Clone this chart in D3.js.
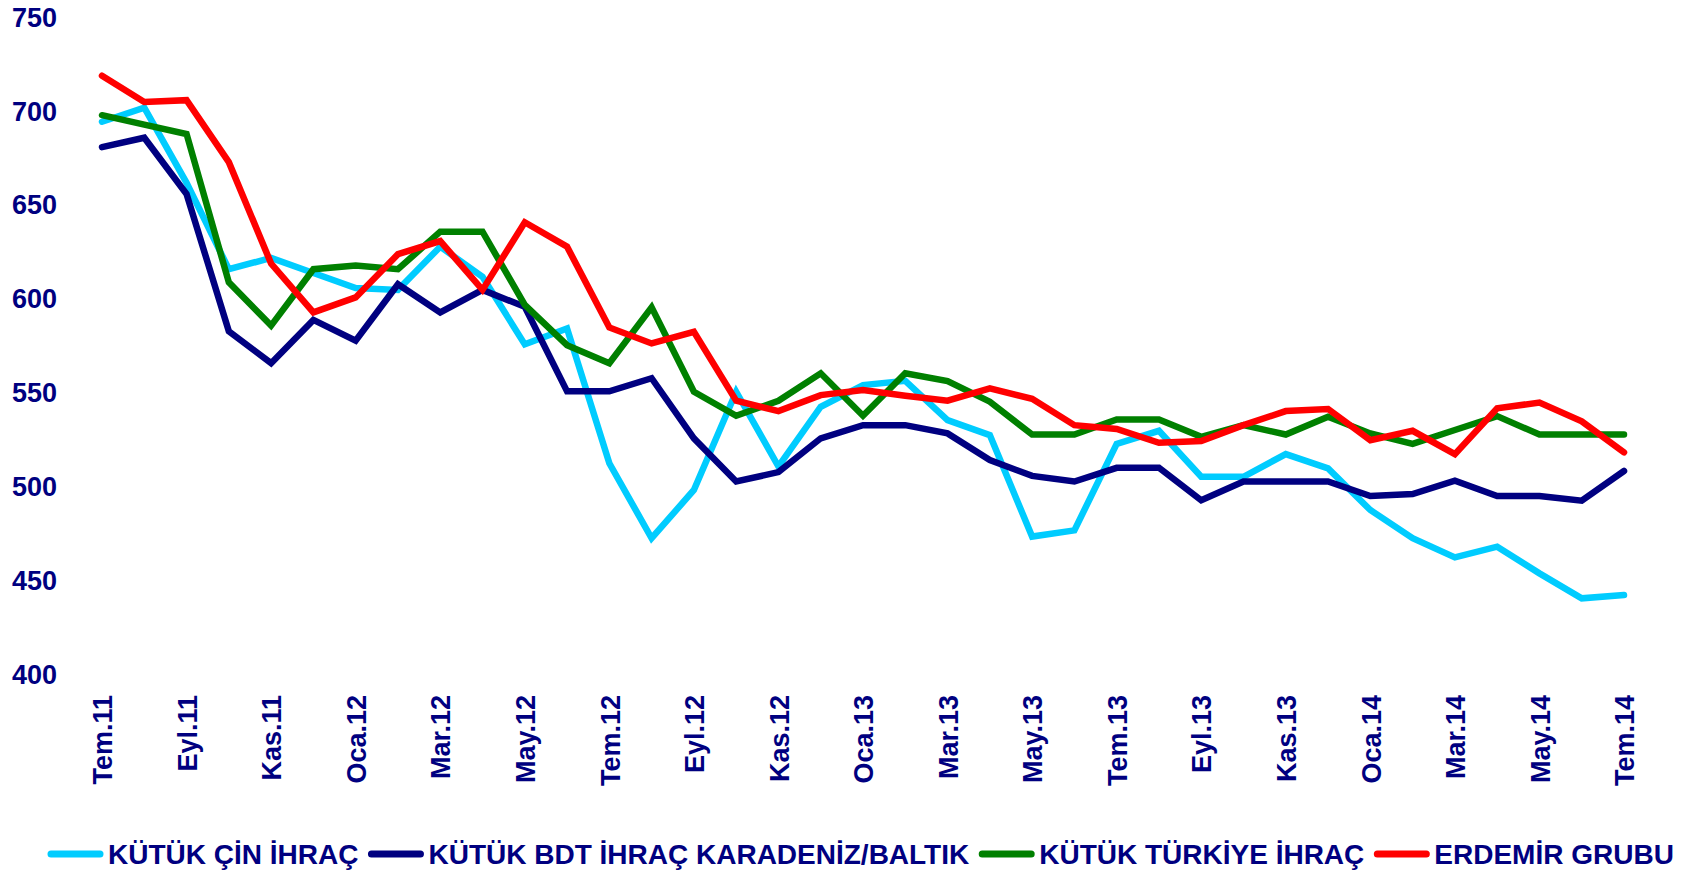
<!DOCTYPE html>
<html>
<head>
<meta charset="utf-8">
<script src="https://cdn.jsdelivr.net/npm/d3@7"></script>
<style>
  html, body { margin: 0; padding: 0; background: #fff; }
  svg text { font-family: Arial, "Liberation Sans", sans-serif; font-weight: bold; fill: #000080; }
</style>
</head>
<body>
<svg id="chart" width="1690" height="872"></svg>
<script>
const months = ["Tem.11","Ağu.11","Eyl.11","Eki.11","Kas.11","Ara.11",
  "Oca.12","Şub.12","Mar.12","Nis.12","May.12","Haz.12","Tem.12","Ağu.12","Eyl.12","Eki.12","Kas.12","Ara.12",
  "Oca.13","Şub.13","Mar.13","Nis.13","May.13","Haz.13","Tem.13","Ağu.13","Eyl.13","Eki.13","Kas.13","Ara.13",
  "Oca.14","Şub.14","Mar.14","Nis.14","May.14","Haz.14","Tem.14"];
const tickLabels = ["Tem.11","Eyl.11","Kas.11","Oca.12","Mar.12","May.12","Tem.12","Eyl.12","Kas.12",
  "Oca.13","Mar.13","May.13","Tem.13","Eyl.13","Kas.13","Oca.14","Mar.14","May.14","Tem.14"];
const yTicks = [400, 450, 500, 550, 600, 650, 700, 750];

const kutukCin = [694.5, 702, 662, 616, 622, 614, 606, 605, 628, 612, 576,
  584.5, 512.7, 472.8, 498.5, 550.8, 511, 542.8, 554.3, 556.6, 535.7, 527.7, 473.7, 477,
  523, 530, 505.5, 505.5, 517.6, 510, 487.8, 472.8, 462.6, 468.3, 454.1, 440.8, 442.6];
const kutukBdt = [681, 686, 656, 583, 566, 589, 578, 608, 593, 605, 596,
  551, 551, 558, 526, 503, 508, 526, 533, 533, 528.6, 514.4, 506, 503,
  510.3, 510.3, 493, 503, 503, 503, 495.3, 496.3, 503.4, 495.3, 495.3, 492.8, 508.6];
const kutukTurkiye = [698, 693, 688, 609, 586, 616, 618, 616, 636, 636, 597,
  575.6, 566, 595.7, 550.8, 538, 546, 560.6, 538, 560.6, 556.5, 545.5, 528, 528,
  536, 536, 526.8, 533, 528, 537.5, 528.6, 523, 530.4, 537.8, 528, 528, 528];
const erdemir = [719, 705, 706, 673, 619, 593, 601, 624, 631, 605, 641,
  628, 585, 576.5, 582.7, 546, 540.5, 549, 551.7, 548.7, 546, 552.6, 547, 533,
  531, 523.6, 524.5, 533, 540.5, 541.6, 525, 530, 517.6, 542, 545, 535, 518.5];

const seriesNames = ["KÜTÜK ÇİN İHRAÇ", "KÜTÜK BDT İHRAÇ KARADENİZ/BALTIK", "KÜTÜK TÜRKİYE İHRAÇ", "ERDEMİR GRUBU"];
const seriesValues = [kutukCin, kutukBdt, kutukTurkiye, erdemir];
const seriesColors = ["#00CCFF", "#000080", "#008000", "#FF0000"];

const svg = d3.select("#chart");
const x = d3.scalePoint().domain(months).range([102, 1624]);
const y = d3.scaleLinear().domain([400, 750]).range([675, 17.5]);

// Y axis
const yAxis = d3.axisLeft(y).tickValues(yTicks).tickSize(0).tickPadding(0);
const gy = svg.append("g").attr("transform", "translate(57,0)").call(yAxis);
gy.select(".domain").remove();
gy.selectAll("text").attr("font-size", 27).attr("fill", "#000080")
  .style("font-family", "Arial, 'Liberation Sans', sans-serif").style("font-weight", "bold");

// X axis
const xAxis = d3.axisBottom(x).tickValues(tickLabels).tickSize(0).tickPadding(0);
const gx = svg.append("g").attr("transform", "translate(0,695)").call(xAxis);
gx.select(".domain").remove();
gx.selectAll("text")
  .attr("font-size", 27).attr("fill", "#000080")
  .style("font-family", "Arial, 'Liberation Sans', sans-serif").style("font-weight", "bold")
  .attr("text-anchor", "end")
  .attr("transform", "rotate(-90)")
  .attr("x", 0).attr("y", 0).attr("dy", "0.36em");

// Lines
const line = d3.line().x((d, i) => x(months[i])).y(d => y(d));
seriesValues.forEach((vals, k) => {
  svg.append("path")
    .datum(vals)
    .attr("d", line)
    .attr("fill", "none")
    .attr("stroke", seriesColors[k])
    .attr("stroke-width", 6.5)
    .attr("stroke-linejoin", "miter")
    .attr("stroke-miterlimit", 4)
    .attr("stroke-linecap", "round");
});

// Legend
let lx = 51;
const ly = 854;
seriesNames.forEach((name, k) => {
  const g = svg.append("g");
  g.append("line")
    .attr("x1", lx).attr("x2", lx + 49).attr("y1", ly).attr("y2", ly)
    .attr("stroke", seriesColors[k]).attr("stroke-width", 7).attr("stroke-linecap", "round");
  const t = g.append("text")
    .attr("x", lx + 57).attr("y", ly).attr("dy", "0.36em")
    .attr("font-size", 28)
    .text(name);
  const w = t.node().getComputedTextLength();
  lx = lx + 57 + w + 13;
});
</script>
</body>
</html>
